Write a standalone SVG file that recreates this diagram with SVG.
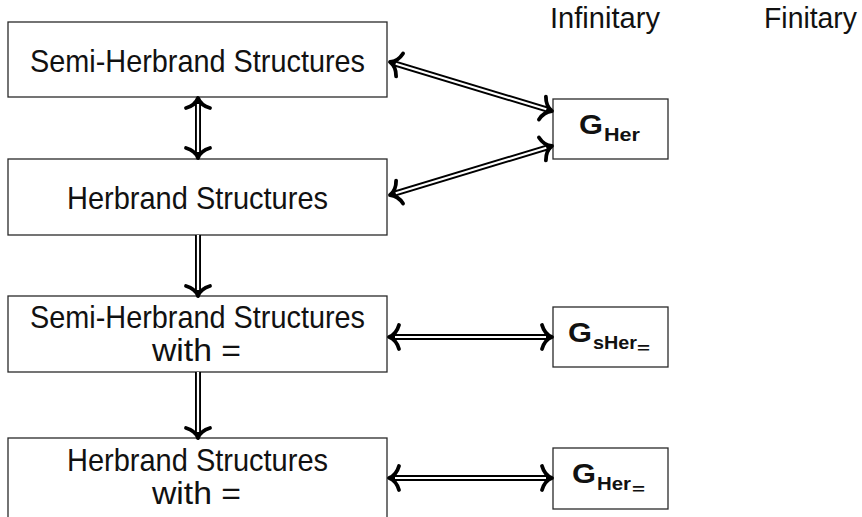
<svg xmlns="http://www.w3.org/2000/svg" xmlns:xlink="http://www.w3.org/1999/xlink" width="862" height="517" viewBox="0 0 862 517">
  <style>
    .box { fill: #fff; stroke: #2a2a2a; stroke-width: 1.3; }
    .lbl { font-family: "Liberation Sans", Arial, sans-serif; font-size: 32px; fill: #111; text-anchor: middle; }
    .head { font-family: "Liberation Sans", Arial, sans-serif; font-size: 30px; fill: #111; text-anchor: middle; }
    .g { font-family: "Liberation Sans", Arial, sans-serif; font-weight: bold; fill: #111; }
    .outer { stroke: #000; stroke-width: 6; fill: none; }
    .inner { stroke: #fff; stroke-width: 2.2; fill: none; }
    .tip { stroke: #000; stroke-width: 3.8; fill: none; stroke-linecap: round; stroke-linejoin: round; }
  </style>
  <defs>
    <!-- open curved arrow tip, pointing along +x with its point at the origin -->
    <path id="tip" class="tip" d="M -10,-12 C -8,-5 -4,-1.5 0,0 C -4,1.5 -8,5 -10,12"/>
  </defs>

  <rect width="862" height="517" fill="#fff"/>

  <!-- column headings -->
  <text class="head" x="605" y="28" textLength="110" lengthAdjust="spacingAndGlyphs">Infinitary</text>
  <text class="head" x="810.5" y="28" textLength="93" lengthAdjust="spacingAndGlyphs">Finitary</text>

  <!-- structure nodes -->
  <g id="semi-herbrand">
    <rect class="box" x="8" y="22" width="379" height="75"/>
    <text class="lbl" x="197.5" y="72" textLength="335" lengthAdjust="spacingAndGlyphs">Semi-Herbrand Structures</text>
  </g>
  <g id="herbrand">
    <rect class="box" x="8" y="159" width="379" height="76"/>
    <text class="lbl" x="197.5" y="209" textLength="261" lengthAdjust="spacingAndGlyphs">Herbrand Structures</text>
  </g>
  <g id="semi-herbrand-eq">
    <rect class="box" x="8" y="296" width="379" height="76"/>
    <text class="lbl" x="197.5" y="328" textLength="335" lengthAdjust="spacingAndGlyphs">Semi-Herbrand Structures</text>
    <text class="lbl" x="196.5" y="361" textLength="89" lengthAdjust="spacingAndGlyphs">with =</text>
  </g>
  <g id="herbrand-eq">
    <rect class="box" x="8" y="438" width="379" height="84"/>
    <text class="lbl" x="197.5" y="471" textLength="261" lengthAdjust="spacingAndGlyphs">Herbrand Structures</text>
    <text class="lbl" x="196.5" y="504" textLength="89" lengthAdjust="spacingAndGlyphs">with =</text>
  </g>

  <!-- game nodes -->
  <g id="g-her">
    <rect class="box" x="553" y="99" width="115" height="60"/>
    <text class="g" x="579" y="134" font-size="28" textLength="24" lengthAdjust="spacingAndGlyphs">G</text>
    <text class="g" x="604" y="141" font-size="19" textLength="36" lengthAdjust="spacingAndGlyphs">Her</text>
  </g>
  <g id="g-sher-eq">
    <rect class="box" x="553" y="307" width="115" height="60"/>
    <text class="g" x="568" y="342" font-size="28" textLength="24" lengthAdjust="spacingAndGlyphs">G</text>
    <text class="g" x="593" y="349" font-size="19" textLength="44" lengthAdjust="spacingAndGlyphs">sHer</text>
    <text class="g" x="637" y="353" font-size="14" font-weight="normal" textLength="13" lengthAdjust="spacingAndGlyphs">=</text>
  </g>
  <g id="g-her-eq">
    <rect class="box" x="553" y="448" width="115" height="61"/>
    <text class="g" x="572" y="483" font-size="28" textLength="24" lengthAdjust="spacingAndGlyphs">G</text>
    <text class="g" x="597" y="490" font-size="19" textLength="34" lengthAdjust="spacingAndGlyphs">Her</text>
    <text class="g" x="632" y="494" font-size="14" font-weight="normal" textLength="13" lengthAdjust="spacingAndGlyphs">=</text>
  </g>

  <!-- connectors: double lines with open tips -->
  <g id="connectors">
    <!-- Semi-Herbrand <=> Herbrand -->
    <line class="outer" x1="198" y1="100" x2="198" y2="156"/>
    <line class="inner" x1="198" y1="104" x2="198" y2="152"/>
    <use xlink:href="#tip" transform="translate(198,98) rotate(-90)"/>
    <use xlink:href="#tip" transform="translate(198,158) rotate(90)"/>

    <!-- Herbrand => Semi-Herbrand with = -->
    <line class="outer" x1="198" y1="235" x2="198" y2="294"/>
    <line class="inner" x1="198" y1="235" x2="198" y2="290"/>
    <use xlink:href="#tip" transform="translate(198,296) rotate(90)"/>

    <!-- Semi-Herbrand with = => Herbrand with = -->
    <line class="outer" x1="198" y1="372" x2="198" y2="436"/>
    <line class="inner" x1="198" y1="372" x2="198" y2="432"/>
    <use xlink:href="#tip" transform="translate(198,438) rotate(90)"/>

    <!-- Semi-Herbrand <=> G_Her -->
    <line class="outer" x1="391.9" y1="62.6" x2="550.1" y2="110.4"/>
    <line class="inner" x1="395.7" y1="63.7" x2="546.3" y2="109.3"/>
    <use xlink:href="#tip" transform="translate(390,62) rotate(196.83)"/>
    <use xlink:href="#tip" transform="translate(552,111) rotate(16.83)"/>

    <!-- Herbrand <=> G_Her -->
    <line class="outer" x1="391.9" y1="194.4" x2="550.1" y2="146.6"/>
    <line class="inner" x1="395.7" y1="193.3" x2="546.3" y2="147.7"/>
    <use xlink:href="#tip" transform="translate(390,195) rotate(163.17)"/>
    <use xlink:href="#tip" transform="translate(552,146) rotate(-16.83)"/>

    <!-- Semi-Herbrand with = <=> G_sHer= -->
    <line class="outer" x1="391" y1="337" x2="550" y2="337"/>
    <line class="inner" x1="395" y1="337" x2="546" y2="337"/>
    <use xlink:href="#tip" transform="translate(389,337) rotate(180)"/>
    <use xlink:href="#tip" transform="translate(552,337)"/>

    <!-- Herbrand with = <=> G_Her= -->
    <line class="outer" x1="391" y1="478" x2="550" y2="478"/>
    <line class="inner" x1="395" y1="478" x2="546" y2="478"/>
    <use xlink:href="#tip" transform="translate(389,478) rotate(180)"/>
    <use xlink:href="#tip" transform="translate(552,478)"/>
  </g>
</svg>
